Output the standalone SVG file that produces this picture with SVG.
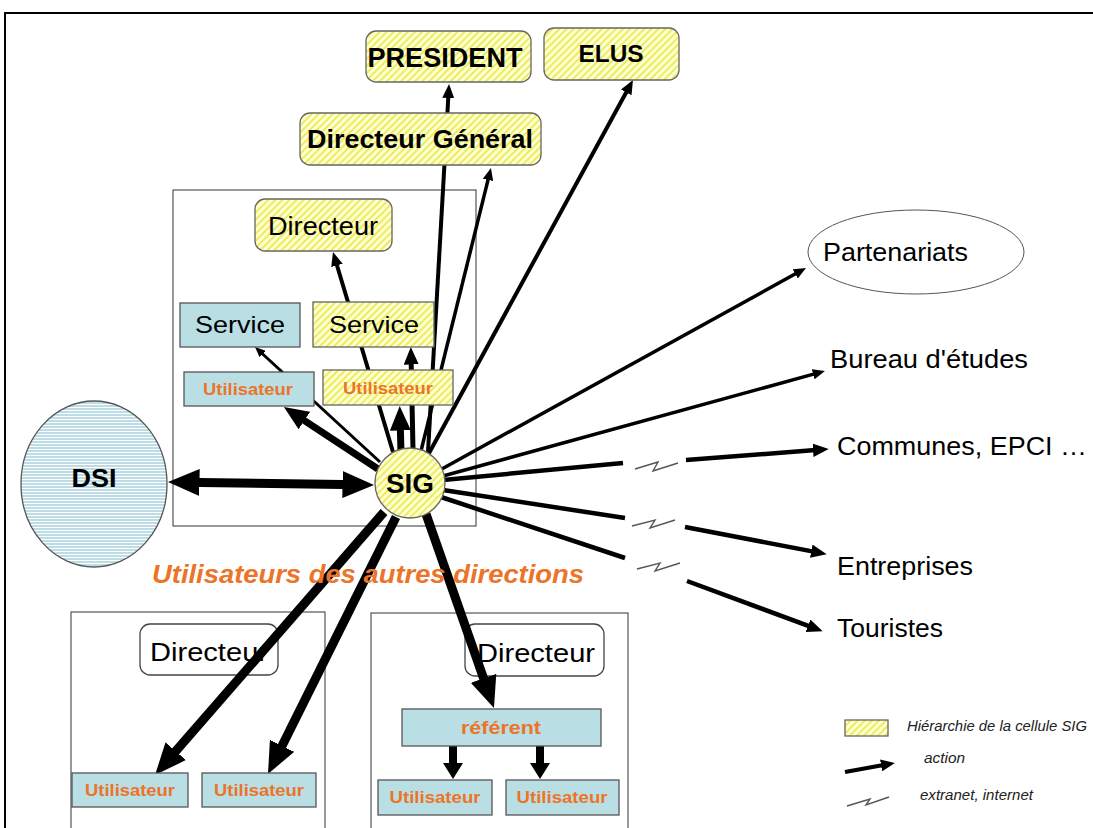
<svg xmlns="http://www.w3.org/2000/svg" width="1093" height="828" viewBox="0 0 1093 828">
<defs>
<pattern id="hatch" patternUnits="userSpaceOnUse" width="5" height="5" patternTransform="rotate(45)">
<rect width="5" height="5" fill="#ffffd6"/>
<rect width="2" height="5" fill="#ecec5c"/>
</pattern>
<pattern id="hstripe" patternUnits="userSpaceOnUse" width="4" height="3">
<rect width="4" height="3" fill="#ffffff"/>
<rect width="4" height="2" fill="#bcdde6"/>
</pattern>
<marker id="ah" viewBox="0 0 3.5 3" refX="2" refY="1.5" markerWidth="3.5" markerHeight="3" orient="auto-start-reverse" markerUnits="strokeWidth">
<path d="M0,0 L3.5,1.5 L0,3 z" fill="#000"/>
</marker>
<marker id="ahs" viewBox="0 0 2 2.5" refX="1" refY="1.25" markerWidth="2" markerHeight="2.5" orient="auto" markerUnits="strokeWidth">
<path d="M0,0 L2,1.25 L0,2.5 z" fill="#000"/>
</marker>
</defs>
<style>
.frame{fill:none;stroke:#000;stroke-width:2}
.cont{fill:#fff;stroke:#333;stroke-width:1}
.yel{fill:url(#hatch);stroke:#666;stroke-width:1.3}
.blue{fill:#b9dee4;stroke:#555;stroke-width:1.3}
.white{fill:#fff;stroke:#444;stroke-width:1.3}
.t{font-family:"Liberation Sans",Arial,sans-serif;fill:#000;text-anchor:middle}
.b{font-weight:bold}
.or{font-family:"Liberation Sans",Arial,sans-serif;fill:#ec7428;font-weight:bold;text-anchor:middle}
.lt{font-family:"Liberation Sans",Arial,sans-serif;fill:#000;font-size:25px}
.lg{font-family:"Liberation Sans",Arial,sans-serif;fill:#222;font-size:14px;font-style:italic}
.c{fill:none;stroke:#000;marker-end:url(#ah)}
.z{fill:none;stroke:#555;stroke-width:1.4}
</style>
<rect x="0" y="0" width="1093" height="828" fill="#fff"/>
<path class="frame" d="M5,829 L5,13 L1095,13"/>

<g id="box-cellule"><rect class="cont" x="173" y="190" width="303" height="336"/></g>
<g id="box-autre1"><rect class="cont" x="71" y="612" width="254" height="220"/></g>
<g id="box-autre2"><rect class="cont" x="371" y="613" width="257" height="220"/></g>

<g id="directeur-a">
<rect class="white" x="140" y="624" width="138" height="51" rx="10"/>
<text class="t" x="209" y="661" font-size="25" textLength="118" lengthAdjust="spacingAndGlyphs">Directeur</text>
</g>
<g id="directeur-b">
<rect class="white" x="465" y="624" width="139" height="52" rx="10"/>
<text class="t" x="536" y="662" font-size="25" textLength="118" lengthAdjust="spacingAndGlyphs">Directeur</text>
</g>

<g id="connectors">
<line class="c" stroke-width="4" x1="428" y1="452" x2="448.7" y2="90"/>
<line class="c" stroke-width="4" x1="428" y1="455" x2="630.1" y2="85.3"/>
<line class="c" stroke-width="3.5" x1="420" y1="455" x2="489.7" y2="173.1"/>
<line class="c" stroke-width="4" x1="393" y1="452" x2="334.7" y2="257.7"/>
<line class="c" stroke-width="5" x1="413" y1="450" x2="411" y2="354.5"/>
<line class="c" stroke-width="7" x1="401" y1="452" x2="400" y2="416.5"/>
<line class="c" stroke-width="3" x1="380" y1="462" x2="258.3" y2="350"/>
<line class="c" stroke-width="7" x1="378" y1="469" x2="292.7" y2="412.8"/>
<line class="c" stroke-width="9" x1="181.5" y1="482.2" x2="360.5" y2="484.8" marker-start="url(#ah)"/>
<line class="c" stroke-width="3.5" x1="440" y1="470" x2="801.4" y2="270.5"/>
<line class="c" stroke-width="3.5" x1="443" y1="476" x2="819.9" y2="372.4"/>
<line stroke="#000" stroke-width="4.5" x1="443" y1="480" x2="623" y2="463"/>
<path class="z" d="M635,469 L658,462 L653,471 L678,463"/>
<line class="c" stroke-width="4.5" x1="686" y1="460" x2="822" y2="449.5"/>
<line stroke="#000" stroke-width="4.5" x1="443" y1="490" x2="625" y2="518"/>
<path class="z" d="M632,526 L655,520 L650,528 L675,520"/>
<line class="c" stroke-width="4.5" x1="685" y1="527" x2="820.1" y2="552.9"/>
<line stroke="#000" stroke-width="4.5" x1="441" y1="497" x2="625" y2="558"/>
<path class="z" d="M637,569 L660,563 L655,571 L680,563"/>
<line class="c" stroke-width="4.5" x1="687" y1="581" x2="816.4" y2="628.9"/>
<line class="c" stroke-width="9" x1="384" y1="512" x2="163.9" y2="764.8"/>
<line class="c" stroke-width="9" x1="396" y1="517" x2="274" y2="761.9"/>
<line class="c" stroke-width="9" x1="426" y1="514" x2="489.5" y2="695.3"/>
<line stroke="#000" stroke-width="8" x1="453" y1="746" x2="453" y2="771" marker-end="url(#ahs)"/>
<line stroke="#000" stroke-width="8" x1="540" y1="746" x2="540" y2="771" marker-end="url(#ahs)"/>
</g>

<g id="president">
<rect class="yel" x="366" y="31" width="165" height="51" rx="10"/>
<text class="t b" x="445" y="67" font-size="27" textLength="155" lengthAdjust="spacingAndGlyphs">PRESIDENT</text>
</g>
<g id="elus">
<rect class="yel" x="544" y="28" width="135" height="52" rx="10"/>
<text class="t b" x="611" y="62" font-size="24" textLength="65" lengthAdjust="spacingAndGlyphs">ELUS</text>
</g>
<g id="directeur-general">
<rect class="yel" x="300" y="113" width="241" height="52" rx="10"/>
<text class="t b" x="420" y="148" font-size="25" textLength="226" lengthAdjust="spacingAndGlyphs">Directeur Général</text>
</g>
<g id="directeur-sig">
<rect class="yel" x="255" y="199" width="137" height="52" rx="10"/>
<text class="t" x="323" y="235" font-size="25" textLength="110" lengthAdjust="spacingAndGlyphs">Directeur</text>
</g>
<g id="service-1">
<rect class="blue" x="180" y="303" width="120" height="44"/>
<text class="t" x="240" y="333" font-size="24" textLength="90" lengthAdjust="spacingAndGlyphs">Service</text>
</g>
<g id="service-2">
<rect class="yel" x="313" y="302" width="121" height="45"/>
<text class="t" x="374" y="333" font-size="24" textLength="90" lengthAdjust="spacingAndGlyphs">Service</text>
</g>
<g id="utilisateur-1">
<rect class="blue" x="184" y="372" width="130" height="34"/>
<text class="or" x="248" y="395" font-size="16" textLength="90" lengthAdjust="spacingAndGlyphs">Utilisateur</text>
</g>
<g id="utilisateur-2">
<rect class="yel" x="323" y="370" width="130" height="35"/>
<text class="or" x="388" y="394" font-size="16" textLength="90" lengthAdjust="spacingAndGlyphs">Utilisateur</text>
</g>

<g id="dsi">
<ellipse cx="94" cy="484" rx="73" ry="83" fill="url(#hstripe)" stroke="#555" stroke-width="1.3"/>
<text class="t b" x="94" y="487" font-size="26" textLength="45" lengthAdjust="spacingAndGlyphs">DSI</text>
</g>
<g id="sig">
<circle cx="410" cy="483" r="35" class="yel"/>
<text class="t b" x="410" y="493" font-size="28" textLength="48" lengthAdjust="spacingAndGlyphs">SIG</text>
</g>

<text id="label-autres" class="or" x="368" y="583" font-size="25" font-style="italic" textLength="432" lengthAdjust="spacingAndGlyphs">Utilisateurs des autres directions</text>

<g id="utilisateur-3">
<rect class="blue" x="72" y="773" width="116" height="34"/>
<text class="or" x="130" y="796" font-size="16" textLength="90" lengthAdjust="spacingAndGlyphs">Utilisateur</text>
</g>
<g id="utilisateur-4">
<rect class="blue" x="202" y="773" width="114" height="34"/>
<text class="or" x="259" y="796" font-size="16" textLength="90" lengthAdjust="spacingAndGlyphs">Utilisateur</text>
</g>
<g id="referent">
<rect class="blue" x="402" y="709" width="199" height="37"/>
<text class="or" x="501" y="734" font-size="18" textLength="80" lengthAdjust="spacingAndGlyphs">référent</text>
</g>
<g id="utilisateur-5">
<rect class="blue" x="378" y="780" width="114" height="35"/>
<text class="or" x="435" y="803" font-size="16" textLength="91" lengthAdjust="spacingAndGlyphs">Utilisateur</text>
</g>
<g id="utilisateur-6">
<rect class="blue" x="506" y="780" width="113" height="35"/>
<text class="or" x="562" y="803" font-size="16" textLength="91" lengthAdjust="spacingAndGlyphs">Utilisateur</text>
</g>

<g id="partenariats">
<ellipse cx="916" cy="252" rx="108" ry="42" fill="#fff" stroke="#555" stroke-width="1"/>
<text class="lt" x="823" y="261" font-size="26" textLength="145" lengthAdjust="spacingAndGlyphs">Partenariats</text>
</g>
<g id="bureau"><text class="lt" x="830" y="368" textLength="198" lengthAdjust="spacingAndGlyphs">Bureau d'études</text></g>
<g id="communes"><text class="lt" x="837" y="455" textLength="250" lengthAdjust="spacingAndGlyphs">Communes, EPCI …</text></g>
<g id="entreprises"><text class="lt" x="837" y="575" textLength="136" lengthAdjust="spacingAndGlyphs">Entreprises</text></g>
<g id="touristes"><text class="lt" x="837" y="637" textLength="106" lengthAdjust="spacingAndGlyphs">Touristes</text></g>

<g id="legend">
<rect class="yel" x="845" y="720" width="43" height="16" rx="0"/>
<text class="lg" x="907" y="731" textLength="180" lengthAdjust="spacingAndGlyphs">Hiérarchie de la cellule SIG</text>
<line class="c" stroke-width="4" x1="845" y1="772" x2="889" y2="764"/>
<text class="lg" x="924" y="763" textLength="41" lengthAdjust="spacingAndGlyphs">action</text>
<path class="z" d="M847,806 L870,799 L866,805 L889,797"/>
<text class="lg" x="920" y="800" textLength="113" lengthAdjust="spacingAndGlyphs">extranet, internet</text>
</g>
</svg>
